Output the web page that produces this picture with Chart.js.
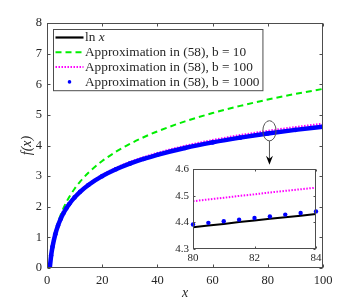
<!DOCTYPE html>
<html>
<head>
<meta charset="utf-8">
<script src="https://cdn.jsdelivr.net/npm/chart.js@4"></script>
<style>
    html, body { margin: 0; padding: 0; background: #fff; }
    #wrap { position: relative; width: 357px; height: 303px; }
    #wrap canvas { position: absolute; left: 0; top: 0; }
</style>
</head>
<body>
<div id="wrap">
    <canvas id="main" width="357" height="303"></canvas>
    <canvas id="inset" width="357" height="303"></canvas>
</div>
<script>
// Main plot data (x from 1 to 100)
const xs = [1, 1.5, 2, 3, 4, 5, 6, 7, 8, 10, 12, 15, 20, 25, 30, 35, 40, 50, 60, 70, 80, 90, 100];
const lnVals = [0, 0.405, 0.693, 1.099, 1.386, 1.609, 1.792, 1.946, 2.079, 2.303, 2.485, 2.708, 2.996, 3.219, 3.401, 3.555, 3.689, 3.912, 4.094, 4.248, 4.382, 4.500, 4.605];
const b10Vals = [0, 0.413, 0.718, 1.162, 1.487, 1.746, 1.962, 2.148, 2.311, 2.589, 2.821, 3.110, 3.493, 3.797, 4.051, 4.269, 4.461, 4.788, 5.059, 5.293, 5.499, 5.683, 5.849];
const b100Vals = [0, 0.406, 0.695, 1.105, 1.396, 1.622, 1.808, 1.965, 2.101, 2.329, 2.516, 2.745, 3.041, 3.271, 3.460, 3.619, 3.758, 3.990, 4.179, 4.340, 4.479, 4.603, 4.713];
const b1000Vals = [0, 0.405, 0.693, 1.100, 1.387, 1.610, 1.794, 1.948, 2.081, 2.306, 2.488, 2.712, 3.000, 3.224, 3.407, 3.561, 3.696, 3.920, 4.102, 4.257, 4.392, 4.510, 4.616];

// Zoomed inset data (x from 80 to 84)
const insetXs = [80, 80.5, 81, 81.5, 82, 82.5, 83, 83.5, 84];
const insetLn = [4.382, 4.388, 4.394, 4.401, 4.407, 4.413, 4.419, 4.425, 4.431];
const insetB100 = [4.479, 4.486, 4.492, 4.499, 4.505, 4.512, 4.518, 4.524, 4.530];
const insetB1000 = [4.392, 4.398, 4.404, 4.410, 4.416, 4.422, 4.429, 4.435, 4.441];

const legendLabels = [
    [['ln ', false], ['x', true]],
    [['Approximation in (58), b = 10', false]],
    [['Approximation in (58), b = 100', false]],
    [['Approximation in (58), b = 1000', false]]
];

// Ellipse marking the zoomed region, in data units of the main plot
const zoomMark = { x: 80.6, y: 4.48, rx: 2.4, ry: 0.33, arrowTo: 3.37 };

const SERIF = '"Liberation Serif", "Times New Roman", serif';
const AXIS_COLOR = '#4d4d4d';
const TEXT_COLOR = '#262626';

function pts(xv, yv) {
    return xv.map((x, i) => ({ x: x, y: yv[i] }));
}

// Box around the plot area with inward tick marks on all sides
const frameTicks = {
    id: 'frameTicks',
    afterDraw(chart, args, opts) {
        const ctx = chart.ctx;
        const a = chart.chartArea;
        const len = opts.len || 3;
        const L = Math.round(a.left) + 0.5, R = Math.round(a.right) - 0.5;
        const T = Math.round(a.top) + 0.5, B = Math.round(a.bottom) - 0.5;
        ctx.save();
        ctx.strokeStyle = AXIS_COLOR;
        ctx.lineWidth = 1;
        ctx.beginPath();
        chart.scales.x.ticks.forEach(t => {
            const px = Math.round(chart.scales.x.getPixelForValue(t.value)) + 0.5;
            ctx.moveTo(px, B); ctx.lineTo(px, B - len);
            ctx.moveTo(px, T); ctx.lineTo(px, T + len);
        });
        chart.scales.y.ticks.forEach(t => {
            const py = Math.round(chart.scales.y.getPixelForValue(t.value)) + 0.5;
            ctx.moveTo(L, py); ctx.lineTo(L + len, py);
            ctx.moveTo(R, py); ctx.lineTo(R - len, py);
        });
        ctx.stroke();
        ctx.strokeRect(L, T, R - L, B - T);
        ctx.restore();
    }
};

// Legend box in the upper left corner
const boxLegend = {
    id: 'boxLegend',
    afterDatasetsDraw(chart) {
        const ctx = chart.ctx;
        const a = chart.chartArea;
        const x0 = a.left + 6.5, y0 = a.top + 6.5;
        const rowH = 14.8, sample = 28;
        const normal = '13.3px ' + SERIF, italic = 'italic 13.3px ' + SERIF;
        ctx.save();
        let maxW = 0;
        legendLabels.forEach(parts => {
            let w = 0;
            parts.forEach(p => { ctx.font = p[1] ? italic : normal; w += ctx.measureText(p[0]).width; });
            maxW = Math.max(maxW, w);
        });
        const boxW = sample + 4 + maxW + 3;
        const boxH = rowH * 4 + 2;
        ctx.fillStyle = '#fff';
        ctx.fillRect(x0, y0, boxW, boxH);
        ctx.strokeStyle = AXIS_COLOR;
        ctx.lineWidth = 1;
        ctx.strokeRect(x0, y0, boxW, boxH);

        chart.data.datasets.forEach((ds, i) => {
            const cy = y0 + 8 + i * rowH;
            const sx0 = x0 + 2, sx1 = x0 + 2 + sample;
            ctx.save();
            if (ds.legendDot) {
                ctx.fillStyle = ds.pointBackgroundColor;
                ctx.beginPath();
                ctx.arc((sx0 + sx1) / 2, cy, 1.8, 0, Math.PI * 2);
                ctx.fill();
            } else {
                ctx.strokeStyle = ds.borderColor;
                ctx.lineWidth = ds.borderWidth;
                ctx.setLineDash(ds.borderDash || []);
                ctx.beginPath();
                ctx.moveTo(sx0, cy);
                ctx.lineTo(sx1, cy);
                ctx.stroke();
            }
            ctx.restore();
            let tx = sx1 + 1.5;
            ctx.fillStyle = TEXT_COLOR;
            ctx.textBaseline = 'middle';
            legendLabels[i].forEach(p => {
                ctx.font = p[1] ? italic : normal;
                ctx.fillText(p[0], tx, cy + 0.5);
                tx += ctx.measureText(p[0]).width;
            });
        });
        ctx.restore();
    }
};

// Ellipse and arrow pointing to the inset
const zoomArrow = {
    id: 'zoomArrow',
    afterDraw(chart) {
        const ctx = chart.ctx;
        const xs_ = chart.scales.x, ys_ = chart.scales.y;
        const cx = xs_.getPixelForValue(zoomMark.x);
        const cy = ys_.getPixelForValue(zoomMark.y);
        const rx = xs_.getPixelForValue(zoomMark.x + zoomMark.rx) - cx;
        const ry = cy - ys_.getPixelForValue(zoomMark.y + zoomMark.ry);
        const tip = ys_.getPixelForValue(zoomMark.arrowTo);
        ctx.save();
        ctx.strokeStyle = '#555';
        ctx.lineWidth = 1;
        ctx.beginPath();
        ctx.ellipse(cx, cy, rx, ry, 0, 0, Math.PI * 2);
        ctx.stroke();
        ctx.beginPath();
        ctx.moveTo(cx, cy + ry);
        ctx.lineTo(cx, tip - 4);
        ctx.stroke();
        ctx.fillStyle = '#000';
        ctx.beginPath();
        ctx.moveTo(cx, tip);
        ctx.lineTo(cx - 3.5, tip - 9);
        ctx.lineTo(cx, tip - 6);
        ctx.lineTo(cx + 3.5, tip - 9);
        ctx.closePath();
        ctx.fill();
        ctx.restore();
    }
};

const insetBg = {
    id: 'insetBg',
    beforeDatasetsDraw(chart) {
        const a = chart.chartArea;
        chart.ctx.save();
        chart.ctx.fillStyle = '#fff';
        chart.ctx.fillRect(a.left, a.top, a.right - a.left, a.bottom - a.top);
        chart.ctx.restore();
    }
};

new Chart(document.getElementById('main'), {
    type: 'line',
    data: {
        datasets: [{
            data: pts(xs, lnVals),
            borderColor: '#000000',
            borderWidth: 2.2,
            pointRadius: 0,
            order: 4
        }, {
            data: pts(xs, b10Vals),
            borderColor: '#00ee00',
            borderWidth: 2,
            borderDash: [6, 4],
            pointRadius: 0,
            order: 3
        }, {
            data: pts(xs, b100Vals),
            borderColor: '#ff00ff',
            borderWidth: 2,
            borderDash: [1.5, 1.5],
            pointRadius: 0,
            order: 2
        }, {
            data: pts(xs, b1000Vals),
            borderColor: '#0000ff',
            borderWidth: 4.5,
            pointRadius: 2.3,
            pointBorderWidth: 0,
            pointBackgroundColor: '#0000ff',
            legendDot: true,
            order: 1
        }]
    },
    options: {
        responsive: false,
        animation: false,
        cubicInterpolationMode: 'monotone',
        layout: { padding: { left: 0, top: 23, right: 34, bottom: 0 } },
        plugins: {
            legend: { display: false },
            tooltip: { enabled: false },
            frameTicks: { len: 3 }
        },
        scales: {
            x: {
                type: 'linear',
                min: 0, max: 100,
                grid: { display: false, drawTicks: false },
                border: { display: false },
                ticks: { stepSize: 20, padding: 5, color: TEXT_COLOR, font: { family: SERIF, size: 12.5 } },
                title: { display: true, text: 'x', color: TEXT_COLOR, padding: { top: 0, bottom: 3 },
                         font: { family: SERIF, size: 14, style: 'italic', lineHeight: 1 } },
                afterFit(scale) { scale.height = 35; }
            },
            y: {
                min: 0, max: 8,
                grid: { display: false, drawTicks: false },
                border: { display: false },
                ticks: { stepSize: 1, padding: 5, color: TEXT_COLOR, font: { family: SERIF, size: 12.5 } },
                title: { display: true, text: 'f(x)', color: TEXT_COLOR, padding: { top: 20, bottom: 0 },
                         font: { family: SERIF, size: 14, style: 'italic', lineHeight: 1 } },
                afterFit(scale) { scale.width = 47; }
            }
        }
    },
    plugins: [frameTicks, boxLegend, zoomArrow]
});

new Chart(document.getElementById('inset'), {
    type: 'line',
    data: {
        datasets: [{
            data: pts(insetXs, insetLn),
            borderColor: '#000000',
            borderWidth: 2,
            pointRadius: 0,
            order: 3
        }, {
            data: pts(insetXs, insetB100),
            borderColor: '#ff00ff',
            borderWidth: 2,
            borderDash: [1.5, 1.5],
            pointRadius: 0,
            order: 2
        }, {
            data: pts(insetXs, insetB1000),
            showLine: false,
            pointRadius: 2.2,
            pointBorderWidth: 0,
            pointBackgroundColor: '#0000ff',
            clip: false,
            order: 1
        }]
    },
    options: {
        responsive: false,
        animation: false,
        layout: { padding: { left: 168, top: 169, right: 41, bottom: 38 } },
        plugins: {
            legend: { display: false },
            tooltip: { enabled: false },
            frameTicks: { len: 2 }
        },
        scales: {
            x: {
                type: 'linear',
                min: 80, max: 84,
                grid: { display: false, drawTicks: false },
                border: { display: false },
                ticks: { stepSize: 2, padding: 3, color: TEXT_COLOR, font: { family: SERIF, size: 11 } },
                afterFit(scale) { scale.height = 16; }
            },
            y: {
                min: 4.3, max: 4.6,
                grid: { display: false, drawTicks: false },
                border: { display: false },
                ticks: { stepSize: 0.1, padding: 4, color: TEXT_COLOR, font: { family: SERIF, size: 11 },
                         callback: v => v.toFixed(1) },
                afterFit(scale) { scale.width = 25; }
            }
        }
    },
    plugins: [insetBg, frameTicks]
});
</script>
</body>
</html>
